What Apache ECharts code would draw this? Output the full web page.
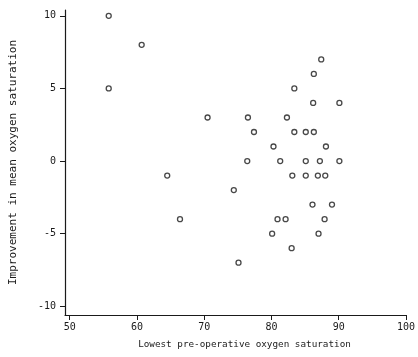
<!DOCTYPE html>
<html>
<head>
<meta charset="utf-8">
<style>html,body{margin:0;padding:0;background:#fff;}#c{width:418px;height:357px;}</style>
<script src="https://cdn.jsdelivr.net/npm/echarts@6/dist/echarts.min.js"></script>
</head>
<body>
<div id="c"></div>
<script>
const xTicks = [50, 60, 70, 80, 90, 100];
const yTicks = [-10, -5, 0, 5, 10];
const saturation = [55.8, 55.8, 60.7, 70.5, 64.5, 66.4, 74.4, 75.1, 76.5, 76.4, 77.4, 80.3, 80.1, 80.9, 82.1, 81.3, 82.3, 83.4, 83.4, 83.1, 83.0, 85.1, 85.1, 85.1, 86.3, 86.3, 86.2, 86.1, 86.9, 87.2, 87.4, 87.0, 88.0, 88.1, 87.9, 89.0, 90.1, 90.1];
const improvement = [10, 5, 8, 3, -1, -4, -2, -7, 3, 0, 2, 1, -5, -4, -4, 0, 3, 5, 2, -1, -6, 2, 0, -1, 2, 6, 4, -3, -1, 0, 7, -5, -1, 1, -4, -3, 4, 0];
const xTitle = 'Lowest pre-operative oxygen saturation';
const yTitle = 'Improvement in mean oxygen saturation';

const points = saturation.map((x, i) => [x, improvement[i]]);
const ink = '#1a1a1a';
const font = 'DejaVu Sans Mono';
const chart = echarts.init(document.getElementById('c'), null, {renderer: 'canvas'});
chart.setOption({
  animation: false,
  backgroundColor: '#fff',
  grid: {left: 63, right: 10, top: 10, bottom: 42},
  xAxis: {
    type: 'value', min: 49.3, max: 100,
    splitLine: {show: false},
    axisLine: {show: true, onZero: false, lineStyle: {color: ink, width: 1.2}},
    axisTick: {show: true, length: 5, customValues: xTicks, lineStyle: {color: ink}},
    axisLabel: {customValues: xTicks, color: ink, fontFamily: font, fontSize: 10, margin: 7},
    name: xTitle, nameLocation: 'middle', nameGap: 25,
    nameTextStyle: {color: ink, fontFamily: font, fontSize: 9.3, padding: [0, 0, 0, 18]}
  },
  yAxis: {
    type: 'value', min: -10.6, max: 10.4,
    splitLine: {show: false},
    axisLine: {show: true, onZero: false, lineStyle: {color: ink, width: 1.2}},
    axisTick: {show: true, length: 5, customValues: yTicks, lineStyle: {color: ink}},
    axisLabel: {customValues: yTicks, color: ink, fontFamily: font, fontSize: 10, margin: 9},
    name: yTitle, nameLocation: 'middle', nameGap: 46, nameRotate: 90,
    nameTextStyle: {color: ink, fontFamily: font, fontSize: 11}
  },
  series: [{
    type: 'scatter', data: points, symbol: 'circle', symbolSize: 5,
    itemStyle: {color: '#fff', borderColor: ink, borderWidth: 1.3}
  }]
});
</script>
</body>
</html>
